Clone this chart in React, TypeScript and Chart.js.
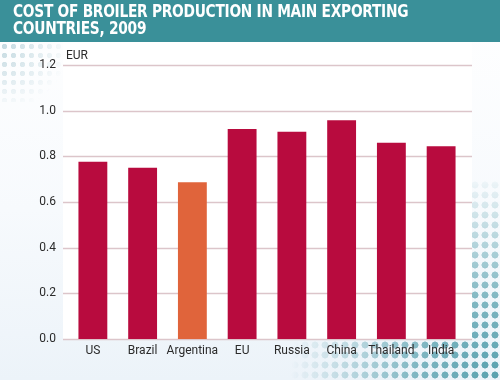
import React, { useEffect, useRef } from "react";
import { Chart, registerables } from "chart.js";

Chart.register(...registerables);

const categories = ["US", "Brazil", "Argentina", "EU", "Russia", "China", "Thailand", "India"];
const costs = [0.776, 0.75, 0.686, 0.92, 0.908, 0.958, 0.86, 0.844];
const highlight = "Argentina";
const yTicks = [0, 0.2, 0.4, 0.6, 0.8, 1.0, 1.2];
const titleLines = ["COST OF BROILER PRODUCTION IN MAIN EXPORTING", "COUNTRIES, 2009"];
const unitLabel = "EUR";

const FONT = "Roboto";
const RED = "#b80b3e";
const ORANGE = "#e0643b";
const GRID = "#dcc5ca";
const TEXT = "#2b2b2b";

const decorPlugin = {
  id: "decor",
  beforeDraw(chart: any) {
    const { ctx, chartArea, scales } = chart;
    const y = scales.y;
    const left = chartArea.left - 5;
    const right = chartArea.right + 6;
    ctx.save();
    ctx.fillStyle = "#ffffff";
    ctx.fillRect(left, 0, right - left, y.getPixelForValue(0));
    ctx.strokeStyle = GRID;
    ctx.lineWidth = 1.5;
    for (const v of yTicks) {
      const py = Math.round(y.getPixelForValue(v)) + 0.5;
      ctx.beginPath();
      ctx.moveTo(left, py);
      ctx.lineTo(right, py);
      ctx.stroke();
    }
    ctx.fillStyle = TEXT;
    ctx.font = `12px ${FONT}`;
    ctx.textAlign = "left";
    ctx.textBaseline = "middle";
    ctx.fillText(unitLabel, chartArea.left - 2, chartArea.top - 9);
    ctx.restore();
  },
};

export default function App() {
  const ref = useRef<HTMLCanvasElement>(null);
  useEffect(() => {
    if (!ref.current) return;
    const chart = new Chart(ref.current, {
      type: "bar",
      data: {
        labels: categories,
        datasets: [
          {
            data: costs,
            backgroundColor: categories.map((c) => (c === highlight ? ORANGE : RED)),
            borderWidth: 0,
            barPercentage: 0.58,
            categoryPercentage: 1,
          },
        ],
      },
      options: {
        animation: false,
        responsive: false,
        maintainAspectRatio: false,
        layout: { padding: { left: 0, right: 34, top: 23, bottom: 0 } },
        plugins: { legend: { display: false }, tooltip: { enabled: false }, title: { display: false } },
        scales: {
          x: {
            grid: { display: false, drawTicks: false },
            border: { display: false },
            ticks: { color: TEXT, font: { family: FONT, size: 12 }, padding: 5, maxRotation: 0, autoSkip: false },
            afterFit: (s: any) => {
              s.height = 41;
            },
          },
          y: {
            min: 0,
            max: 1.2,
            grid: { display: false, drawTicks: false },
            border: { display: false },
            afterBuildTicks: (s: any) => {
              s.ticks = yTicks.map((v) => ({ value: v }));
            },
            ticks: {
              color: TEXT,
              font: { family: FONT, size: 12 },
              padding: 12,
              callback: (v: any) => Number(v).toFixed(1),
            },
            afterFit: (s: any) => {
              s.width = 68;
            },
          },
        },
      },
      plugins: [decorPlugin],
    });
    return () => chart.destroy();
  }, []);

  return (
    <div
      style={{
        position: "fixed",
        left: 0,
        top: 0,
        width: 500,
        height: 380,
        overflow: "hidden",
        background: "linear-gradient(to bottom, #ffffff 0%, #f7fafd 55%, #ecf3f9 100%)",
        fontFamily: FONT,
      }}
    >
      <div
        style={{
          position: "absolute",
          left: 0,
          top: 42,
          width: 80,
          height: 60,
          backgroundImage: "radial-gradient(circle, rgba(120,170,185,0.45) 2.4px, transparent 3px)",
          backgroundSize: "9px 9px",
          WebkitMaskImage: "radial-gradient(circle at 0% 0%, black 0px, transparent 70px)",
          maskImage: "radial-gradient(circle at 0% 0%, black 0px, transparent 70px)",
        }}
      />
      <div
        style={{
          position: "absolute",
          right: 0,
          bottom: 0,
          width: 280,
          height: 200,
          backgroundImage: "radial-gradient(circle, rgba(60,145,160,0.85) 3.2px, transparent 3.8px)",
          backgroundSize: "10px 10px",
          WebkitMaskImage: "radial-gradient(circle at 100% 100%, black 0px, rgba(0,0,0,0.75) 80px, transparent 210px)",
          maskImage: "radial-gradient(circle at 100% 100%, black 0px, rgba(0,0,0,0.75) 80px, transparent 210px)",
        }}
      />
      <div
        style={{
          position: "absolute",
          left: 0,
          top: 0,
          width: 500,
          height: 42,
          background: "#3a9099",
          color: "#ffffff",
          boxSizing: "border-box",
          padding: "3px 0 0 13px",
          fontFamily: "'DejaVu Sans Condensed', 'DejaVu Sans', sans-serif",
          fontWeight: "bold",
          fontSize: 17,
          lineHeight: "17px",
          letterSpacing: "-0.3px",
        }}
      >
        {titleLines.map((l, i) => (
          <div key={i} style={{ transform: "scaleX(0.9)", transformOrigin: "left center", whiteSpace: "nowrap" }}>
            {l}
          </div>
        ))}
      </div>
      <canvas ref={ref} width={500} height={338} style={{ position: "absolute", left: 0, top: 42 }} />
    </div>
  );
}
